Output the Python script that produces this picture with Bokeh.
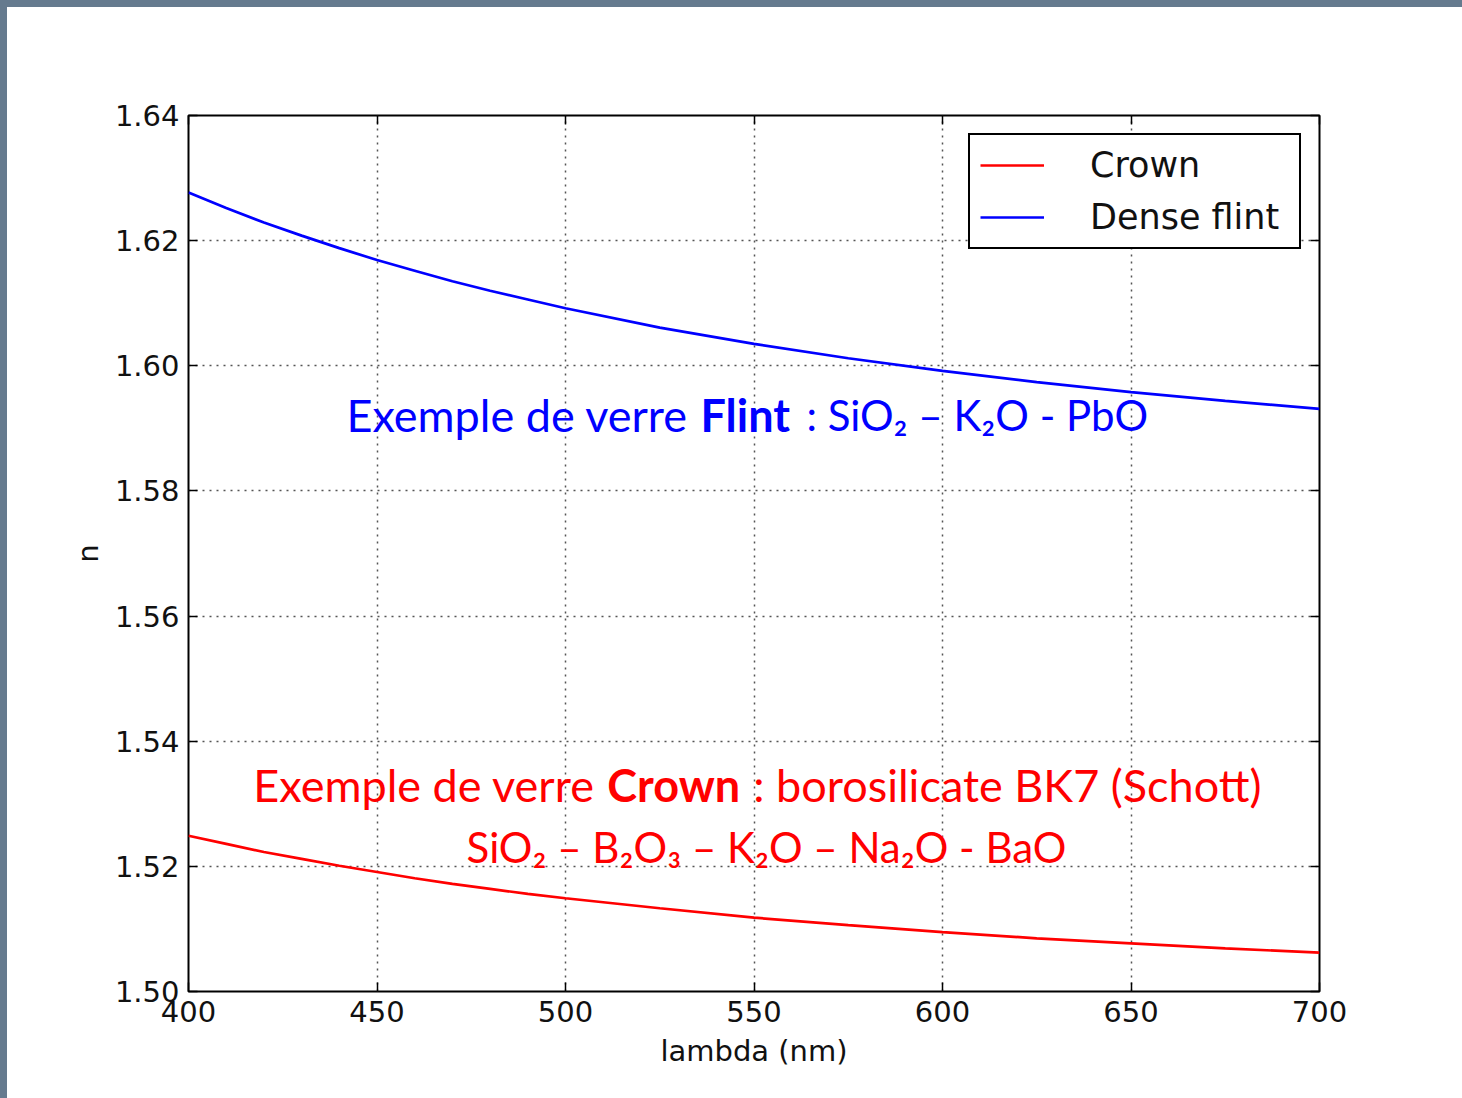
from bokeh.plotting import figure
from bokeh.models import (Range1d, FixedTicker, PrintfTickFormatter, LinearAxis,
                          CustomJSTickFormatter, Legend, LegendItem, Label, Spacer)
from bokeh.layouts import column, row
from bokeh.embed import file_html
from bokeh.resources import INLINE

# ---- data ----
wavelength = [400, 410, 420, 430, 440, 450, 460, 470, 480, 490, 500,
              525, 550, 575, 600, 625, 650, 675, 700]
n_crown = [1.5249, 1.5236, 1.5223, 1.5212, 1.5201, 1.5191, 1.5181, 1.5172,
           1.5164, 1.5156, 1.5149, 1.5133, 1.5118, 1.5106, 1.5095, 1.5085,
           1.5077, 1.5069, 1.5062]
n_flint = [1.6277, 1.6252, 1.6229, 1.6208, 1.6188, 1.6169, 1.6152, 1.6135,
           1.6120, 1.6106, 1.6092, 1.6061, 1.6035, 1.6012, 1.5992, 1.5974,
           1.5958, 1.5944, 1.5931]
series_names = ["Crown", "Dense flint"]
x_ticks = [400, 450, 500, 550, 600, 650, 700]
y_ticks = [1.50, 1.52, 1.54, 1.56, 1.58, 1.60, 1.62, 1.64]

STRIP = 7
p = figure(width=1446 - STRIP, height=1082 - STRIP, output_backend="svg",
           toolbar_location=None,
           x_range=Range1d(400, 700), y_range=Range1d(1.50, 1.64),
           min_border_left=188 - STRIP, min_border_right=127,
           min_border_top=115 - STRIP, min_border_bottom=91)
p.background_fill_color = "white"
p.border_fill_color = "white"
p.outline_line_color = "black"
p.outline_line_width = 2

p.xaxis.ticker = FixedTicker(ticks=x_ticks)
p.yaxis.ticker = FixedTicker(ticks=y_ticks)
p.yaxis.formatter = PrintfTickFormatter(format="%.2f")
p.xaxis.axis_label = "lambda (nm)"
p.yaxis.axis_label = "n"

for ax in (p.xaxis[0], p.yaxis[0]):
    ax.axis_line_color = None
    ax.major_tick_in = 9
    ax.major_tick_out = 0
    ax.major_tick_line_color = "black"
    ax.major_tick_line_width = 1.5
    ax.minor_tick_line_color = None
    ax.major_label_text_font = "DejaVu Sans"
    ax.major_label_text_font_size = "29px"
    ax.major_label_text_color = "#111111"
    ax.major_label_standoff = 9
    ax.axis_label_text_font = "DejaVu Sans"
    ax.axis_label_text_font_size = "29px"
    ax.axis_label_text_font_style = "normal"
    ax.axis_label_text_color = "#111111"
    ax.axis_label_standoff = 9
p.yaxis[0].axis_label_standoff = 7

for loc, tk in (("right", y_ticks), ("above", x_ticks)):
    ax = LinearAxis(ticker=FixedTicker(ticks=tk),
                    formatter=CustomJSTickFormatter(code="return ''"),
                    axis_line_color=None, major_tick_in=9, major_tick_out=0,
                    major_tick_line_color="black", major_tick_line_width=1.5,
                    minor_tick_line_color=None)
    p.add_layout(ax, loc)

for g in (p.xgrid[0], p.ygrid[0]):
    g.grid_line_color = "#555555"
    g.grid_line_width = 1.5
    g.grid_line_dash = "2 5"

r_crown = p.line(wavelength, n_crown, line_color="#ff0000", line_width=2.7)
r_flint = p.line(wavelength, n_flint, line_color="#0000ff", line_width=2.7)

legend = Legend(items=[LegendItem(label=series_names[0], renderers=[r_crown]),
                       LegendItem(label=series_names[1], renderers=[r_flint])],
                location="top_right", margin=18, padding=10, spacing=12,
                glyph_width=64, glyph_height=40, label_height=40,
                label_width=199, label_standoff=46,
                label_text_font="DejaVu Sans", label_text_font_size="35px",
                label_text_color="#111111",
                border_line_color="black", border_line_width=2,
                border_line_alpha=1.0,
                background_fill_color="white", background_fill_alpha=1)
p.add_layout(legend)

BLUE = "#0000ff"
RED = "#ff0000"
FONT = "Lato"
SIZE = "45px"
SIZE_FORMULA = "42px"

Y_FLINT = 1.5922
Y_CROWN = 1.5330
Y_FORMULA = 1.5231
annotations = [
    # (x, y, text, color, style, size, align)
    (441.9, Y_FLINT, "Exemple de verre", BLUE, "normal", SIZE, "left"),
    (535.8, Y_FLINT, "Flint", BLUE, "bold", SIZE, "left"),
    (563.9, Y_FLINT, ": SiO\u2082 \u2013 K\u2082O - PbO", BLUE, "normal", SIZE_FORMULA, "left"),
    (417.2, Y_CROWN, "Exemple de verre", RED, "normal", SIZE, "left"),
    (511.1, Y_CROWN, "Crown", RED, "bold", SIZE, "left"),
    (549.8, Y_CROWN, ": borosilicate BK7 (Schott)", RED, "normal", SIZE, "left"),
    (553.3, Y_FORMULA, "SiO\u2082 \u2013 B\u2082O\u2083 \u2013 K\u2082O \u2013 Na\u2082O - BaO",
     RED, "normal", SIZE_FORMULA, "center"),
]
for x, y, t, c, s, fs, a in annotations:
    p.add_layout(Label(x=x, y=y, text=t, text_color=c, text_font=FONT,
                       text_font_size=fs, text_font_style=s,
                       text_baseline="alphabetic", text_align=a))

# slate strips along the top and left edges of the picture
FRAME = "#657a8e"
top_strip = Spacer(width=1446, height=STRIP,
                   styles={"background-color": FRAME,
                           "box-shadow": "16px 0 0 0 " + FRAME})
left_strip = Spacer(width=STRIP, height=1082 - STRIP,
                    styles={"background-color": FRAME,
                            "box-shadow": "0 16px 0 0 " + FRAME})
page = column(top_strip, row(left_strip, p, spacing=0), spacing=0)

open("out.html", "w").write(file_html(page, INLINE))
